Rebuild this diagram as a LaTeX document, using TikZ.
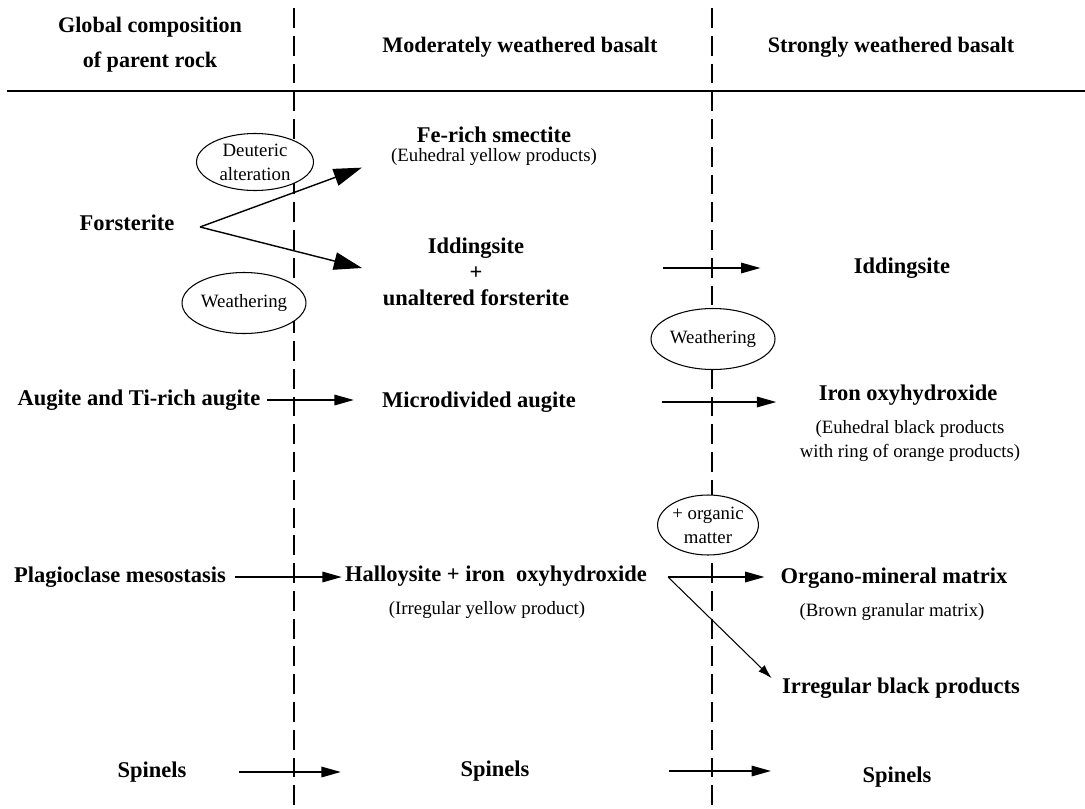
\documentclass[tikz,border=0pt]{standalone}
\usepackage{fontspec}
\setmainfont{Liberation Serif}
\usetikzlibrary{shapes,arrows.meta}
\usetikzlibrary{calc}

\tikzset{
  heading/.style={font=\fontsize{12.6}{19.8}\selectfont\bfseries, inner sep=0pt, align=center},
  mineral/.style={font=\fontsize{12.8}{14.8}\selectfont\bfseries, inner sep=0pt, align=center},
  remark/.style={font=\fontsize{10.7}{14}\selectfont, inner sep=0pt, align=center},
  process/.style={draw, shape=ellipse, fill=white, line width=0.6pt, inner sep=0pt,
    font=\fontsize{10.7}{13.6}\selectfont, align=center},
  arr/.style={-{Triangle[length=11pt,width=6pt]}, line width=0.8pt},
  bigarr/.style={-{Triangle[length=16pt,width=10pt]}, line width=0.8pt},
  smallarr/.style={-{Latex[length=8pt,width=5pt]}, line width=0.6pt},
  divider/.style={dash pattern=on 11.3pt off 4.5pt, line width=0.6pt}
}

\begin{document}
\begin{tikzpicture}[x=0.02cm,y=-0.02cm]
			\useasboundingbox (0,0) rectangle (1085,808);
			% column headings
			\node [heading] (HdParent) at (150,45) {Global composition\\of parent rock};
			\node [heading] (HdModerate) at (520,47) {Moderately weathered basalt};
			\node [heading] (HdStrong) at (891,47) {Strongly weathered basalt};
			\draw [line width=1.2pt] (7,91) -- (1085,91);
			\draw [divider] (294,8) -- (294,808);
			\draw [divider] (712,8) -- (712,808);

			% parent rock
			\node [mineral] (Forst) at (127,223) {Forsterite};
			\node [mineral] (Augite) at (139,400) {Augite and Ti-rich augite};
			\node [mineral] (Plagio) at (120,577) {Plagioclase mesostasis};
			\node [mineral] (SpinelA) at (152,772) {Spinels};

			% moderately weathered
			\node [mineral] (FeSmec) at (494,135) {Fe-rich smectite};
			\node [remark] (FeSmecSub) at (494,157) {(Euhedral yellow products)};
			\node [mineral] (IddA) at (476,272) {Iddingsite\\+\\unaltered forsterite};
			\node [mineral] (MicroAug) at (479,402) {Microdivided augite};
			\node [mineral] (Halloy) at (496,576) {Halloysite + iron\ \ oxyhydroxide};
			\node [remark] (HalloySub) at (487,610) {(Irregular yellow product)};
			\node [mineral] (SpinelB) at (495,771) {Spinels};

			% strongly weathered
			\node [mineral] (IddB) at (902,268) {Iddingsite};
			\node [mineral] (IronOx) at (908,395) {Iron oxyhydroxide};
			\node [remark] (IronOxSub) at (910,441) {(Euhedral black products\\with ring of orange products)};
			\node [mineral] (Organo) at (894,578) {Organo-mineral matrix};
			\node [remark] (OrganoSub) at (892,612) {(Brown granular matrix)};
			\node [mineral] (Irreg) at (901,688) {Irregular black products};
			\node [mineral] (SpinelC) at (897,777) {Spinels};

			% processes
			\node [process, minimum width=2.34cm, minimum height=1.14cm] (Deuteric) at (255,162) {Deuteric\\alteration};
			\node [process, minimum width=2.48cm, minimum height=1.22cm] (WeathA) at (244,303) {Weathering};
			\node [process, minimum width=2.48cm, minimum height=1.22cm] (WeathB) at (713,339) {Weathering};
			\node [process, minimum width=1.9cm, minimum height=1.2cm] (Organic) at (708,525) {+ organic\\matter};

			% transformations
			\coordinate (ForstFork) at (200,227);
			\coordinate (IddTip) at (362,268);
			\coordinate (HalloyFork) at (668,577);
			\draw [bigarr, shorten >=17.6pt] (ForstFork) -- (FeSmecSub.west);
			\draw [bigarr] (ForstFork) -- (IddTip);
			\draw [arr, shorten <=3.4pt, shorten >=15.9pt] (Augite.east) -- (Augite.east -| MicroAug.west);
			\draw [arr, shorten <=5pt, shorten >=1.7pt] (Plagio.east) -- (Plagio.east -| Halloy.west);
			\draw [arr, shorten <=29.5pt, shorten >=68pt] (SpinelA.east) -- (SpinelA.east -| SpinelB.west);
			\draw [arr, shorten <=53pt, shorten >=53pt] (IddA.east |- IddB.west) -- (IddB.west);
			\draw [arr, shorten <=49pt, shorten >=24pt] (MicroAug.east) -- (MicroAug.east -| IronOx.west);
			\draw [arr, shorten >=9pt] (HalloyFork) -- (HalloyFork -| Organo.west);
			\draw [smallarr, shorten >=8pt] (HalloyFork) -- (Irreg.west);
			\draw [arr, shorten <=79pt, shorten >=52pt] (SpinelB.east) -- (SpinelB.east -| SpinelC.west);
		\end{tikzpicture}
\end{document}
